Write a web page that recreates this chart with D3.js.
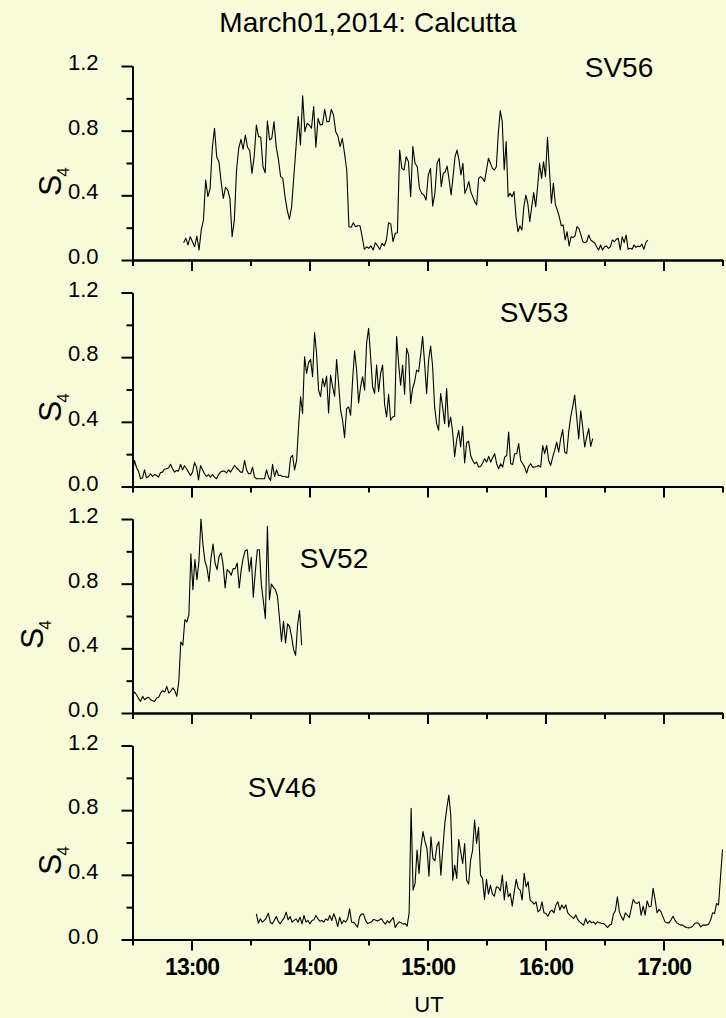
<!DOCTYPE html>
<html>
<head>
<meta charset="utf-8">
<script src="https://cdn.jsdelivr.net/npm/d3@7"></script>
<style>
  body { margin: 0; background: #f8fbda; }
  text { font-family: "Liberation Sans", Arial, sans-serif; fill: #000; }
</style>
</head>
<body>
<script>
// S4 readings, roughly one per minute
var sv56a = [0.107,0.134,0.093,0.144,0.113,0.082,0.148,0.062,0.186,0.247,
  0.495,0.392,0.443,0.691,0.815,0.639,0.608,0.485,0.381,0.450,
  0.433,0.381,0.144,0.247,0.557,0.691,0.746,0.685,0.773,0.697,
  0.676,0.536,0.639,0.835,0.763,0.759,0.577,0.540,0.860,0.742,
  0.753,0.856,0.701,0.623,0.516,0.505,0.392,0.309,0.252,0.330,
  0.516,0.701,0.887,0.711,1.015,0.794,0.845,0.835,0.815,0.949,
  0.697,0.876,0.835,0.839,0.932,0.856,0.856,0.932,0.897,0.794,
  0.767,0.701,0.753,0.660,0.557,0.206,0.202,0.231,0.206,0.212,
  0.212,0.144,0.066,0.082,0.072,0.087,0.062,0.107,0.087,0.066,
  0.103,0.087,0.124,0.231,0.223,0.113,0.165,0.169,0.680,0.567,
  0.557,0.639,0.608,0.392,0.701,0.598,0.577,0.443,0.412,0.402,
  0.371,0.526,0.567,0.334,0.412,0.598,0.629];
var sv56b = [0.454,0.536,0.546,0.581,0.495,0.402,0.516,0.639,0.680,0.619,
  0.526,0.598,0.412,0.443,0.485,0.423,0.392,0.361,0.340,0.505,
  0.516,0.505,0.485,0.557,0.629,0.598,0.567,0.557,0.577,0.784,
  0.924,0.856,0.557,0.732,0.392,0.412,0.392,0.423,0.268,0.175,
  0.210,0.186,0.330,0.402,0.351,0.237,0.330,0.417,0.330,0.454,
  0.598,0.505,0.608,0.516,0.759,0.557,0.351,0.474,0.346,0.309,
  0.268,0.212,0.217,0.124,0.175,0.087,0.144,0.140,0.148,0.206,
  0.196,0.155,0.113,0.107,0.113,0.155,0.124,0.113,0.107,0.082,
  0.062,0.093,0.062,0.082,0.087,0.072,0.082,0.124,0.113,0.128,
  0.134,0.062,0.144,0.107,0.155,0.066,0.072,0.066,0.093,0.078,
  0.087,0.082,0.099,0.066,0.107,0.124];
var sv53 = [0.089,0.161,0.116,0.095,0.048,0.054,0.103,0.054,0.062,0.079,
  0.062,0.074,0.068,0.058,0.087,0.089,0.108,0.110,0.114,0.137,
  0.110,0.089,0.099,0.095,0.137,0.103,0.128,0.110,0.089,0.068,
  0.089,0.149,0.120,0.041,0.130,0.103,0.079,0.062,0.074,0.058,
  0.074,0.058,0.048,0.074,0.089,0.095,0.095,0.083,0.103,0.089,
  0.110,0.130,0.116,0.103,0.089,0.089,0.161,0.103,0.079,0.079,
  0.120,0.058,0.048,0.048,0.048,0.048,0.048,0.103,0.058,0.037,
  0.137,0.062,0.103,0.068,0.070,0.062,0.062,0.058,0.058,0.178,
  0.192,0.103,0.161,0.368,0.555,0.451,0.803,0.699,0.766,0.786,
  0.679,0.952,0.823,0.596,0.555,0.668,0.617,0.683,0.455,0.689,
  0.617,0.559,0.786,0.637,0.472,0.410,0.302,0.482,0.492,0.441,
  0.658,0.840,0.720,0.517,0.617,0.679,0.596,0.886,0.979,0.803,
  0.617,0.575,0.751,0.586,0.699,0.751,0.509,0.430,0.571,0.410,
  0.430,0.434,0.927,0.761,0.627,0.751,0.571,0.855,0.813,0.513,
  0.606,0.648,0.720,0.710,
  0.813,0.927,0.761,0.575,0.782,0.869,0.741,0.492,0.389,0.348,
  0.575,0.492,0.389,0.606,0.368,0.430,0.337,0.186,0.286,0.348,
  0.244,0.372,0.145,0.269,0.281,0.192,0.161,0.141,0.151,0.120,
  0.124,0.145,0.172,0.151,0.186,0.151,0.178,0.203,0.141,0.110,
  0.141,0.120,0.182,0.192,0.337,0.141,0.137,0.203,0.203,0.265,
  0.161,0.141,0.120,0.083,0.124,0.141,0.120,0.120,0.124,0.130,
  0.120,0.254,0.203,0.254,0.161,0.130,0.182,0.223,0.275,0.213,
  0.296,0.352,0.213,0.203,0.337,0.430,0.492,0.565,0.430,0.296,
  0.468,0.368,0.244,0.306,0.358,0.248,0.296];
var sv52 = [0.103,0.130,0.113,0.089,0.072,0.103,0.082,0.093,0.097,0.082,
  0.076,0.072,0.093,0.097,0.124,0.138,0.130,0.165,0.124,0.134,
  0.155,0.138,0.103,0.196,0.439,0.419,0.577,0.563,0.608,0.984,
  0.763,0.949,0.825,0.938,1.200,1.041,0.938,0.897,0.814,0.959,
  1.045,0.928,0.887,0.969,0.990,0.918,0.773,0.887,0.876,0.852,
  0.893,0.893,0.928,0.773,0.887,0.959,1.004,1.010,0.876,0.963,
  0.716,0.876,1.010,1.010,0.794,0.691,0.584,1.155,0.701,0.798,
  0.777,0.763,0.722,0.588,0.443,0.567,0.433,0.551,0.536,0.474,
  0.392,0.357,0.546,0.633,0.419];
var sv46 = [0.159,0.101,0.128,0.107,0.118,0.134,0.163,0.107,0.097,0.118,
  0.142,0.113,0.097,0.118,0.134,0.169,0.122,0.142,0.107,0.118,
  0.128,0.107,0.138,0.097,0.149,0.107,0.118,0.097,0.118,0.122,
  0.149,0.128,0.113,0.118,0.107,0.128,0.118,0.149,0.118,0.159,
  0.128,0.080,0.138,0.097,0.118,0.107,0.128,0.190,0.107,0.107,
  0.093,0.076,
  0.140,0.157,0.157,0.120,0.099,0.103,0.109,0.124,0.120,0.114,
  0.120,0.130,0.109,0.095,0.116,0.103,0.120,0.136,0.074,0.095,
  0.109,0.103,0.095,0.099,0.083,0.165,0.811,0.305,0.347,0.553,
  0.409,0.574,0.667,0.605,0.563,0.392,0.636,0.502,0.487,0.578,
  0.605,0.398,0.563,0.718,0.811,0.894,0.770,0.367,0.460,0.378,
  0.619,0.543,0.471,0.594,0.367,0.343,0.491,0.553,0.739,0.594,
  0.694,0.398,0.378,0.248,0.372,0.281,0.336,0.281,0.268,0.326,
  0.322,0.301,0.398,0.244,0.357,0.264,0.285,0.206,0.295,0.372,
  0.316,0.305,0.244,0.409,0.326,0.357,0.244,0.233,0.219,0.233,
  0.171,0.182,0.233,0.165,0.161,0.144,0.171,0.182,0.165,0.213,
  0.233,0.182,0.213,0.192,0.213,0.165,0.151,0.140,0.130,0.151,
  0.124,0.109,0.099,0.089,0.130,0.099,0.116,0.103,0.109,0.095,
  0.109,0.103,0.099,0.099,0.089,0.074,0.089,0.095,0.157,0.178,
  0.264,0.171,0.140,0.120,0.165,0.151,0.136,0.192,0.248,0.227,
  0.223,0.233,0.151,0.206,0.151,0.239,0.202,0.206,0.316,0.248,
  0.165,0.186,0.171,0.140,0.109,0.103,0.103,0.120,0.144,0.120,
  0.103,0.095,0.089,0.089,0.078,0.074,0.072,0.074,0.083,0.099,
  0.103,0.099,0.078,0.089,0.089,0.089,0.095,0.120,0.165,0.161,
  0.223,0.213,0.388,0.557];

var satellites = ["SV56", "SV53", "SV52", "SV46"];
// first and last sample time of each piece of record
var segments = [
  [{from: "12:56", to: "15:06", values: sv56a}, {from: "15:07", to: "16:52", values: sv56b}],
  [{from: "12:30", to: "16:24", values: sv53}],
  [{from: "12:30", to: "13:56", values: sv52}],
  [{from: "13:33", to: "17:30", values: sv46}]
];
var hourTicks = ["13:00", "14:00", "15:00", "16:00", "17:00"];
var halfHourTicks = ["12:30", "13:30", "14:30", "15:30", "16:30", "17:30"];
var yMajor = [0, 0.4, 0.8, 1.2];
var yMinor = [0.2, 0.6, 1.0];

var W = 726, H = 1018;
var left = 132.5, right = 722.5, top0 = 66, panelH = 194, step = 226.5;
// label placement per panel: [x, baseline] of SV name, [x, y] of rotated S4
var nameAt = [[619, 77], [534, 322], [334, 568], [282, 797]];
var s4At = [[61, 196], [61, 422], [43, 649], [61, 875]];

var parseTime = d3.utcParse("%H:%M");

var svg = d3.select("body").append("svg")
    .attr("width", W)
    .attr("height", H);

svg.append("rect").attr("width", W).attr("height", H).attr("fill", "#f8fbda");

var x = d3.scaleUtc()
    .domain([parseTime("12:30"), parseTime("17:30")])
    .range([left, right]);

svg.append("text")
    .attr("x", 368).attr("y", 32)
    .attr("text-anchor", "middle")
    .style("font-size", "28px")
    .text("March01,2014: Calcutta");

satellites.forEach(function(name, i) {
  var top = top0 + i * step, bottom = top + panelH;
  var y = d3.scaleLinear().domain([0, 1.2]).range([bottom, top]);
  var g = svg.append("g");

  // build the time series
  var pts = [];
  segments[i].forEach(function(seg) {
    var t0 = parseTime(seg.from), t1 = parseTime(seg.to), n = seg.values.length;
    seg.values.forEach(function(v, k) {
      pts.push({t: new Date(+t0 + (t1 - t0) * k / (n - 1)), v: v});
    });
  });

  var line = d3.line()
      .x(function(d) { return x(d.t); })
      .y(function(d) { return y(d.v); });

  g.append("path")
      .datum(pts)
      .attr("fill", "none")
      .attr("stroke", "#000")
      .attr("stroke-width", 1.1)
      .attr("stroke-linejoin", "round")
      .attr("d", line);

  // x axis
  var xMaj = g.append("g")
      .attr("transform", "translate(0," + bottom + ")")
      .call(d3.axisBottom(x)
        .tickValues(hourTicks.map(parseTime))
        .tickSize(11).tickSizeOuter(0)
        .tickFormat(i === 3 ? d3.utcFormat("%H:%M") : ""));
  g.append("g")
      .attr("transform", "translate(0," + bottom + ")")
      .call(d3.axisBottom(x)
        .tickValues(halfHourTicks.map(parseTime))
        .tickSize(6).tickSizeOuter(0)
        .tickFormat(""));
  xMaj.selectAll("text")
      .attr("y", 19).attr("dy", "0.71em")
      .style("font-size", "23px")
      .style("font-weight", "bold")
      .style("letter-spacing", "-1px");

  // y axis
  var yMaj = g.append("g")
      .attr("transform", "translate(" + left + ",0)")
      .call(d3.axisLeft(y)
        .tickValues(yMajor)
        .tickSize(11).tickSizeOuter(0).tickPadding(23)
        .tickFormat(d3.format(".1f")));
  g.append("g")
      .attr("transform", "translate(" + left + ",0)")
      .call(d3.axisLeft(y)
        .tickValues(yMinor)
        .tickSize(6).tickSizeOuter(0)
        .tickFormat(""));
  yMaj.selectAll("text")
      .attr("dy", "0.16em")
      .style("font-size", "22px");

  g.selectAll(".domain, .tick line")
      .attr("stroke", "#000")
      .attr("stroke-width", 2);
  g.selectAll(".tick text").style("font-family", "'Liberation Sans', Arial, sans-serif").attr("fill", "#000");

  g.append("text")
      .attr("x", nameAt[i][0]).attr("y", nameAt[i][1])
      .attr("text-anchor", "middle")
      .style("font-size", "28px")
      .text(name);

  var s4 = g.append("text")
      .attr("transform", "translate(" + s4At[i][0] + "," + s4At[i][1] + ") rotate(-90)")
      .style("font-size", "32px");
  s4.append("tspan").text("S");
  s4.append("tspan").attr("dy", 8).attr("dx", -2).style("font-size", "17px").text("4");
});

svg.append("text")
    .attr("x", 429).attr("y", 1012)
    .attr("text-anchor", "middle")
    .style("font-size", "22px")
    .text("UT");
</script>
</body>
</html>
